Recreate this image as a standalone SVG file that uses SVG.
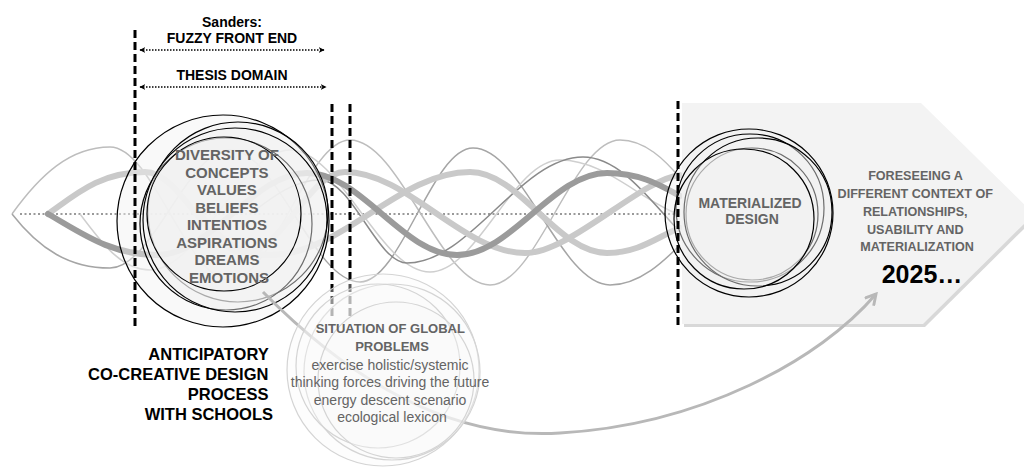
<svg xmlns="http://www.w3.org/2000/svg" width="1024" height="468" viewBox="0 0 1024 468">
<defs>
<style>
.t{font-family:"Liberation Sans",Arial,sans-serif;}
.b{font-weight:bold;}
.g{fill:#646464;}
.k{fill:#000;}
.dash{stroke:#000;stroke-width:3;stroke-dasharray:8 4;fill:none;}
.ring{fill:rgba(242,242,242,0.45);stroke:#000;stroke-width:1.2;}
.sring{fill:rgba(250,250,250,0.35);stroke:#d4d4d4;stroke-width:1.2;}
.thick{fill:none;stroke-width:6;stroke-linecap:round;}
.thin{fill:none;stroke-width:1.5;}
.dot{stroke:#000;stroke-width:1.6;stroke-dasharray:1.5 1.5;fill:none;}
</style>
<marker id="ah" viewBox="0 0 10 10" refX="9" refY="5" markerWidth="6" markerHeight="6" orient="auto-start-reverse" markerUnits="userSpaceOnUse">
<path d="M0,0 L10,5 L0,10 L3,5 z" fill="#000"/>
</marker>
<marker id="gh" viewBox="0 0 12 12" refX="10" refY="6" markerWidth="14" markerHeight="14" orient="auto" markerUnits="userSpaceOnUse">
<path d="M1,1 L10,6 L1,11" fill="none" stroke="#b8b8b8" stroke-width="2.5" stroke-linejoin="miter"/>
</marker>
</defs>
<rect width="1024" height="468" fill="#fff"/>

<g id="waves">
<line x1="20" y1="214" x2="680" y2="214" stroke="#9a9a9a" stroke-width="2" stroke-dasharray="2 2.5"/>
<path class="thin" stroke="#bdbdbd" d="M12,214 C40,175 70,147 110,147 C153,147 187,280 230,280 C273,280 307,140 350,140 C400,140 440,285 490,285 C537,285 573,140 620,140 C645,140 665,160 680,178"/>
<path class="thin" stroke="#a5a5a5" d="M12,214 C40,250 70,268 110,268 C153,268 187,150 230,150 C277,150 313,282 360,282 C401,282 432,148 473,148 C523,148 560,285 610,285 C640,285 665,260 680,245"/>
<path class="thin" stroke="#cfcfcf" d="M80,214 C100,240 120,270 150,270 C200,270 240,150 290,150 C340,150 380,272 430,272 C477,272 513,160 560,160 C605,160 640,200 680,215"/>
<path class="thin" stroke="#8a8a8a" d="M250,214 C275,195 295,180 320,180 C352,180 377,263 407,263 C470,263 520,157 583,157 C620,157 650,200 680,232"/>
<path class="thick" stroke="#c9c9c9" d="M48,214 C75,195 100,172 145,172 C181,172 209,253 245,253 C281,253 309,172 345,172 C407,172 463,253 525,253 C570,253 640,180 680,175"/>
<path class="thick" stroke="#c9c9c9" d="M200,214 C220,240 240,255 270,255 C342,255 398,172 470,172 C520,172 557,253 607,253 C640,253 660,235 680,228"/>
<path class="thick" stroke="#9b9b9b" d="M48,214 C80,232 110,255 157,255 C211,255 253,173 307,173 C361,173 403,255 457,255 C511,255 553,173 607,173 C640,173 660,185 680,196"/>
</g>

<g id="future-arrow">
<polygon points="684,106 923,106 1036,217 925,327 684,327" fill="#d8d8d8"/>
<polygon points="682,103 921,103 1034,214 923,324 682,324" fill="#f3f3f3"/>
</g>

<g id="values-circle">
<circle class="ring" cx="223" cy="221" r="106"/>
<circle class="ring" cx="238" cy="212" r="90"/>
<circle class="ring" cx="226" cy="224" r="86"/>
<circle class="ring" cx="235" cy="220" r="92"/>
<circle class="ring" cx="224" cy="214" r="77"/>
<text class="t b g" font-size="15" text-anchor="middle">
<tspan x="229" y="160">DIVERSITY OF</tspan>
<tspan x="229" y="177.5">CONCEPTS</tspan>
<tspan x="229" y="195">VALUES</tspan>
<tspan x="229" y="212.5">BELIEFS</tspan>
<tspan x="229" y="230">INTENTIOS</tspan>
<tspan x="229" y="247.5">ASPIRATIONS</tspan>
<tspan x="229" y="265">DREAMS</tspan>
<tspan x="229" y="282.5">EMOTIONS</tspan>
</text>
</g>

<g id="materialized-circle">
<circle class="ring" cx="749" cy="213" r="84"/>
<circle class="ring" cx="750" cy="208" r="74"/>
<circle class="ring" cx="752" cy="214" r="66"/>
<circle class="ring" cx="758" cy="212" r="74"/>
<circle class="ring" cx="744" cy="219" r="70"/>
<text class="t b g" font-size="14" text-anchor="middle">
<tspan x="752" y="208">MATERIALIZED</tspan>
<tspan x="752" y="224">DESIGN</tspan>
</text>
</g>

<g id="dashed-markers">
<line class="dash" x1="135" y1="30" x2="135" y2="330"/>
<line class="dash" x1="332" y1="104" x2="332" y2="318"/>
<line class="dash" x1="350" y1="104" x2="350" y2="318"/>
<line class="dash" x1="678" y1="101" x2="678" y2="328"/>
</g>

<g id="connectors">
<path d="M263,292 C350,380 450,440 560,433 C700,425 820,360 876,294" fill="none" stroke="#b8b8b8" stroke-width="3" marker-end="url(#gh)"/>
</g>

<g id="global-problems">
<circle class="sring" cx="383" cy="370" r="96"/>
<circle class="sring" cx="392" cy="372" r="88"/>
<circle class="sring" cx="378" cy="366" r="82"/>
<circle class="sring" cx="396" cy="380" r="78"/>
<text class="t b g" font-size="13" text-anchor="middle">
<tspan x="392" y="333">SITUATION OF GLOBAL</tspan>
<tspan x="392" y="351">PROBLEMS</tspan>
</text>
<text class="t g" font-size="14" text-anchor="middle">
<tspan x="392" y="369.5">exercise holistic/systemic</tspan>
<tspan x="392" y="387">thinking forces driving the future</tspan>
<tspan x="392" y="404.5">energy descent scenario</tspan>
<tspan x="392" y="422">ecological lexicon</tspan>
</text>
</g>

<g id="scope-labels">
<text class="t b k" font-size="14" text-anchor="middle" x="232" y="27">Sanders:</text>
<text class="t b k" font-size="14" text-anchor="middle" x="232" y="43">FUZZY FRONT END</text>
<line class="dot" x1="140" y1="50" x2="324" y2="50" marker-start="url(#ah)" marker-end="url(#ah)"/>
<text class="t b k" font-size="14" text-anchor="middle" x="232" y="80">THESIS DOMAIN</text>
<line class="dot" x1="140" y1="87" x2="326" y2="87" marker-start="url(#ah)" marker-end="url(#ah)"/>
</g>

<g id="process-label">
<text class="t b k" font-size="16.5" text-anchor="end">
<tspan x="273" y="360">ANTICIPATORY</tspan>
<tspan x="273" y="380">CO-CREATIVE DESIGN</tspan>
<tspan x="273" y="400">PROCESS</tspan>
<tspan x="273" y="420">WITH SCHOOLS</tspan>
</text>
</g>

<g id="future-label">
<text class="t b g" font-size="12.6" text-anchor="middle">
<tspan x="917" y="180">FORESEEING A</tspan>
<tspan x="917" y="198">DIFFERENT CONTEXT OF</tspan>
<tspan x="917" y="216">RELATIONSHIPS,</tspan>
<tspan x="917" y="233.5">USABILITY AND</tspan>
<tspan x="917" y="251">MATERIALIZATION</tspan>
</text>
<text class="t b k" font-size="25" text-anchor="middle" x="922" y="283">2025…</text>
</g>
</svg>
